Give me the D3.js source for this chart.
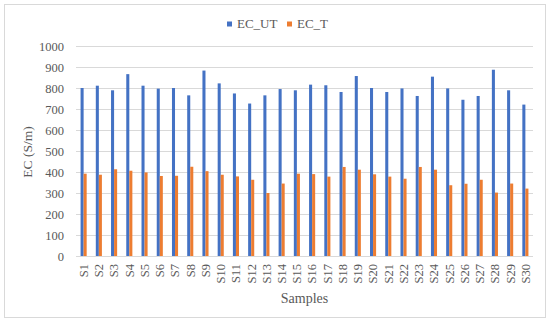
<!DOCTYPE html>
<html>
<head>
<meta charset="utf-8">
<script src="https://cdn.jsdelivr.net/npm/d3@7"></script>
<style>
  body { margin: 0; background: #fff; }
  text { font-family: "Liberation Serif", "Times New Roman", serif; fill: #595959; }
</style>
</head>
<body>
<div id="chart"></div>
<script>
var samples = d3.range(1, 31).map(function(i) { return 'S' + i; });
var seriesNames = ['EC_UT', 'EC_T'];
var ecUT = [800, 811, 789, 866, 811, 797, 800, 765, 883, 822,
            774, 726, 765, 795, 789, 816, 813, 781, 857, 800,
            781, 798, 762, 854, 798, 744, 762, 887, 789, 721];
var ecT = [392, 387, 413, 406, 398, 381, 382, 425, 404, 387,
           379, 363, 300, 345, 392, 390, 378, 424, 411, 389,
           378, 368, 424, 411, 337, 344, 363, 302, 345, 321];
var yTicks = [0, 100, 200, 300, 400, 500, 600, 700, 800, 900, 1000];
var colors = ['#4472C4', '#ED7D31'];

var W = 550, H = 322;
var margin = { top: 46, right: 17, bottom: 66, left: 76 };

var svg = d3.select('#chart').append('svg')
            .attr('width', W)
            .attr('height', H);

// outer frame
svg.append('rect')
   .attr('x', 4.5).attr('y', 4.5)
   .attr('width', W - 9).attr('height', H - 9)
   .attr('fill', '#fff')
   .attr('stroke', '#d9d9d9');

var x = d3.scaleBand()
          .domain(samples)
          .range([margin.left, W - margin.right]);

var inner = d3.scaleBand()
              .domain(seriesNames)
              .range([0, x.bandwidth() * 0.4])

var y = d3.scaleLinear()
          .domain([0, 1000])
          .range([H - margin.bottom, margin.top]);

// gridlines
svg.append('g').selectAll('line')
   .data(yTicks)
   .enter().append('line')
   .attr('x1', margin.left)
   .attr('x2', W - margin.right)
   .attr('y1', function(d) { return Math.round(y(d)) + 0.5 })
   .attr('y2', function(d) { return Math.round(y(d)) + 0.5 })
   .attr('stroke', '#d9d9d9');

// y axis labels
var yAxis = svg.append('g')
               .attr('transform', 'translate(' + (margin.left - 12) + ',0)')
               .call(d3.axisLeft(y).tickValues(yTicks).tickFormat(d3.format('d')).tickSize(0).tickPadding(0));
yAxis.select('.domain').remove();
yAxis.selectAll('text')
     .style('font-family', '"Liberation Serif", serif')
     .style('font-size', '12.5px')
     .attr('fill', '#595959');

var data = samples.map(function(s, i) { return { s: s, vals: [ecUT[i], ecT[i]] } });

var groups = svg.append('g').selectAll('g')
                .data(data)
                .enter().append('g')
                .attr('transform', function(d) { return 'translate(' + (x(d.s) + x.bandwidth() * 0.3) + ',0)' });

groups.selectAll('rect')
      .data(function(d) { return d.vals.map(function(v, k) { return { k: k, v: v } }) })
      .enter().append('rect')
      .attr('x', function(d) { return inner(seriesNames[d.k]) })
      .attr('width', inner.bandwidth())
      .attr('y', function(d) { return y(d.v) })
      .attr('height', function(d) { return y(0) - y(d.v) })
      .attr('fill', function(d) { return colors[d.k] });

// x axis labels (rotated)
var xAxis = svg.append('g')
               .attr('transform', 'translate(0,' + (H - margin.bottom) + ')')
               .call(d3.axisBottom(x).tickSize(0).tickPadding(0));
xAxis.select('.domain').remove();
xAxis.selectAll('text')
     .style('font-family', '"Liberation Serif", serif')
     .style('font-size', '12.5px')
     .attr('fill', '#595959')
     .attr('transform', 'rotate(-90)')
     .attr('x', -8)
     .attr('y', 0)
     .attr('dy', '0.35em')
     .style('text-anchor', 'end');

// axis titles
svg.append('text')
   .attr('x', (margin.left + W - margin.right) / 2)
   .attr('y', 303)
   .attr('text-anchor', 'middle')
   .style('font-size', '14px')
   .text('Samples');

svg.append('text')
   .attr('transform', 'translate(32,152) rotate(-90)')
   .attr('text-anchor', 'middle')
   .style('font-size', '13.5px')
   .text('EC (S/m)');

// legend
var legend = svg.append('g').attr('transform', 'translate(227,0)');
var legendX = [0, 60];
seriesNames.forEach(function(name, i) {
  legend.append('rect')
        .attr('x', legendX[i]).attr('y', 21.5)
        .attr('width', 5).attr('height', 5)
        .attr('fill', colors[i]);
  legend.append('text')
        .attr('x', legendX[i] + 10)
        .attr('y', 23)
        .attr('dy', '0.35em')
        .style('font-size', '13px')
        .text(name);
});
</script>
</body>
</html>
